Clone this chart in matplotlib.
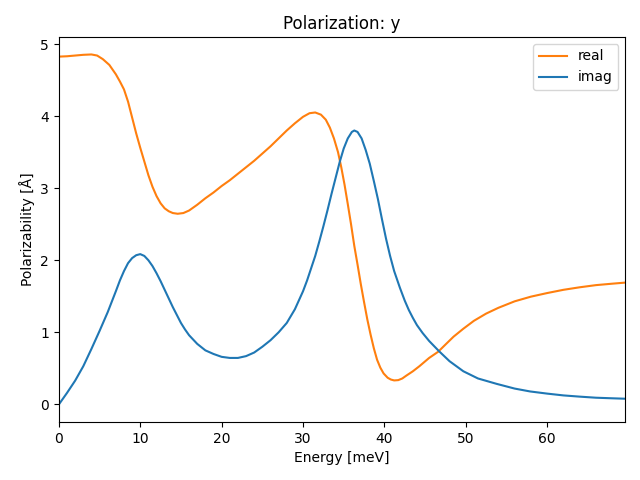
import matplotlib
matplotlib.use("Agg")
import matplotlib.pyplot as plt

# values
energy_re = [0, 1, 2, 3, 4, 4.7, 5.4, 6.2, 7, 7.5, 8, 8.5, 9, 9.5, 10, 10.5, 11, 11.5,
             12, 12.5, 13, 13.5, 14, 14.6, 15.3, 16, 17, 18, 19, 20, 21, 22, 23, 24,
             25, 26, 27, 28, 29, 30, 30.8, 31.5, 32.2, 32.8, 33.3, 33.8, 34.3, 34.7,
             35.1, 35.5, 35.9, 36.3, 36.7, 37.1, 37.5, 37.9, 38.3, 38.7, 39.1, 39.5,
             39.9, 40.4, 40.8, 41.2, 41.7, 42.2, 42.7, 43.5, 44.3, 45.5, 46.6, 47.5,
             48.5, 49.7, 51, 52.5, 54, 56, 58, 60, 62, 64, 66, 68, 69.6]
real = [4.825, 4.83, 4.84, 4.85, 4.855, 4.84, 4.79, 4.71, 4.58, 4.48, 4.37, 4.2, 3.98,
        3.76, 3.56, 3.37, 3.18, 3.02, 2.89, 2.79, 2.72, 2.68, 2.655, 2.645, 2.655,
        2.69, 2.77, 2.86, 2.94, 3.03, 3.11, 3.2, 3.29, 3.38, 3.48, 3.58, 3.69, 3.8,
        3.9, 3.99, 4.04, 4.05, 4.02, 3.95, 3.84, 3.69, 3.5, 3.29, 3.05, 2.78, 2.5,
        2.2, 1.94, 1.67, 1.42, 1.18, 0.97, 0.78, 0.62, 0.51, 0.43, 0.37, 0.345,
        0.333, 0.337, 0.36, 0.4, 0.46, 0.53, 0.645, 0.73, 0.83, 0.94, 1.05, 1.16,
        1.26, 1.34, 1.43, 1.495, 1.545, 1.59, 1.625, 1.655, 1.675, 1.69]

energy_im = [0, 1, 2, 3, 4, 5, 6, 7, 7.5, 8, 8.5, 9, 9.5, 10, 10.5, 11, 11.5, 12, 12.5,
             13, 13.5, 14, 14.5, 15, 15.5, 16, 17, 18, 19, 20, 21, 22, 23, 24, 25, 26,
             27, 28, 29, 30, 30.5, 31, 31.5, 32, 32.5, 33, 33.5, 34, 34.5, 35, 35.5,
             36, 36.3, 36.7, 37.2, 37.7, 38.2, 38.7, 39.2, 39.7, 40.2, 40.7, 41.2,
             41.9, 42.5, 43, 43.5, 44, 44.7, 45.5, 46.7, 48, 49.7, 51.5, 53.8, 56,
             57.9, 60, 62, 64, 66, 68, 69.6]
imag = [0.0, 0.16, 0.33, 0.53, 0.77, 1.02, 1.28, 1.57, 1.72, 1.85, 1.96, 2.03, 2.07,
        2.085, 2.06, 2.0, 1.92, 1.82, 1.71, 1.59, 1.47, 1.35, 1.24, 1.13, 1.04, 0.96,
        0.84, 0.75, 0.7, 0.66, 0.645, 0.645, 0.67, 0.72, 0.8, 0.89, 1.0, 1.13, 1.32,
        1.57, 1.72, 1.89, 2.06, 2.26, 2.47, 2.69, 2.92, 3.14, 3.36, 3.55, 3.69, 3.78,
        3.8, 3.78, 3.69, 3.53, 3.34, 3.1, 2.85, 2.57, 2.3, 2.06, 1.85, 1.62, 1.44,
        1.31, 1.2, 1.1, 0.99, 0.88, 0.74, 0.6, 0.46, 0.36, 0.285, 0.22, 0.18, 0.15,
        0.125, 0.108, 0.093, 0.085, 0.079]

fig, ax = plt.subplots(figsize=(6.4, 4.8), dpi=100)
ax.plot(energy_re, real, color="C1", label="real")
ax.plot(energy_im, imag, color="C0", label="imag")
ax.set_xlim(0, 69.6)
ax.set_title("Polarization: y")
ax.set_xlabel("Energy [meV]")
ax.set_ylabel("Polarizability [Å]")
ax.legend(loc="upper right")
fig.subplots_adjust(left=0.092, right=0.977, bottom=0.121, top=0.923)
fig.savefig("out.png")
